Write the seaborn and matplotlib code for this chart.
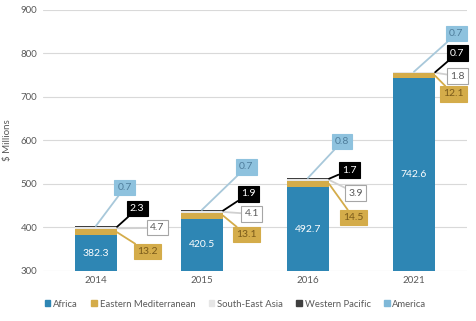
import matplotlib
matplotlib.use("Agg")
import matplotlib.pyplot as plt
import seaborn as sns
import pandas as pd
import numpy as np

years = ["2014", "2015", "2016", "2021"]
africa = [382.3, 420.5, 492.7, 742.6]
eastern_med = [13.2, 13.1, 14.5, 12.1]
se_asia = [4.7, 4.1, 3.9, 1.8]
western_pac = [2.3, 1.9, 1.7, 0.7]
america = [0.7, 0.7, 0.8, 0.7]

series_names = ["Africa", "Eastern Mediterranean", "South-East Asia", "Western Pacific", "America"]
series_vals = [africa, eastern_med, se_asia, western_pac, america]
colors = ["#2E86B4", "#D4AC4A", "#E6E6E6", "#3F3F3F", "#7FB8D8"]

# label box positions (data coords, x offset from category, y value)
label_pos = {
    "Eastern Mediterranean": [(0.49, 344), (0.42, 383), (0.43, 422), (0.37, 707)],
    "South-East Asia": [(0.58, 399), (0.47, 431), (0.45, 479), (0.41, 748)],
    "Western Pacific": [(0.39, 443), (0.44, 477), (0.39, 532), (0.41, 801)],
    "America": [(0.27, 491), (0.42, 539), (0.32, 597), (0.40, 845)],
}

sns.set_theme(style="white")
plt.rcParams["font.family"] = ["Lato", "DejaVu Sans"]

fig = plt.figure(figsize=(4.76, 3.21), dpi=100)
ax = fig.add_axes([0.090, 0.156, 0.891, 0.813])

# cumulative totals
cum = np.cumsum(np.array(series_vals), axis=0)
df_rows = []
for si, name in enumerate(series_names):
    for yi, yr in enumerate(years):
        df_rows.append({"year": yr, "series": name, "value": series_vals[si][yi], "top": cum[si][yi]})
df = pd.DataFrame(df_rows)

# draw from top-most cumulative to bottom so each layer overlays
for si in range(len(series_names) - 1, -1, -1):
    name = series_names[si]
    sub = df[df["series"] == name]
    sns.barplot(data=sub, x="year", y="top", color=colors[si], width=0.4,
                saturation=1, ax=ax, edgecolor="none", linewidth=0, errorbar=None)

ax.set_ylim(300, 900)
ax.set_xlim(-0.5, 3.5)
ax.set_yticks(range(300, 901, 100))
ax.yaxis.grid(True, color="#D9D9D9", linewidth=0.8)
ax.set_axisbelow(True)
for sp in ax.spines.values():
    sp.set_visible(False)
ax.tick_params(axis="both", length=0, labelsize=7, colors="#595959", pad=4)
ax.set_xlabel("")
ax.set_ylabel("$ Millions", fontsize=7, color="#595959", labelpad=6)

# Africa labels inside bars
for i, v in enumerate(africa):
    ax.text(i, (300 + v) / 2, f"{v:.1f}", ha="center", va="center", color="white", fontsize=7.5)

styles = {
    "Eastern Mediterranean": dict(fc="#D4AC4A", ec="#D4AC4A", tc="#7A5A1A", lc="#D4AC4A"),
    "South-East Asia": dict(fc="white", ec="#A6A6A6", tc="#595959", lc="#D0D0D0"),
    "Western Pacific": dict(fc="black", ec="black", tc="white", lc="black"),
    "America": dict(fc="#8EC2DE", ec="#8EC2DE", tc="#4F7E9C", lc="#A8C8DA"),
}

for si, name in enumerate(series_names[1:], start=1):
    st = styles[name]
    for i in range(len(years)):
        v = series_vals[si][i]
        top = cum[si][i]
        bot = cum[si - 1][i]
        if name == "America":
            sx, sy = i, top
        else:
            sx, sy = i + 0.2, (top + bot) / 2
        dx, dy = label_pos[name][i]
        ax.annotate(f"{v:.1f}", xy=(sx, sy), xytext=(i + dx, dy),
                    ha="center", va="center", fontsize=7.5, color=st["tc"],
                    bbox=dict(boxstyle="square,pad=0.3", fc=st["fc"], ec=st["ec"], lw=0.8),
                    arrowprops=dict(arrowstyle="-", color=st["lc"], lw=1.3,
                                    shrinkA=0, shrinkB=0))

handles = [plt.Rectangle((0, 0), 1, 1, color=c) for c in colors]
fig.legend(handles, series_names, loc="center", bbox_to_anchor=(0.495, 0.052), ncol=5,
           frameon=False, fontsize=6.8, handlelength=0.6, handleheight=0.6,
           handletextpad=0.3, columnspacing=1.4, labelcolor="#595959")

fig.savefig("out.png", dpi=100)
